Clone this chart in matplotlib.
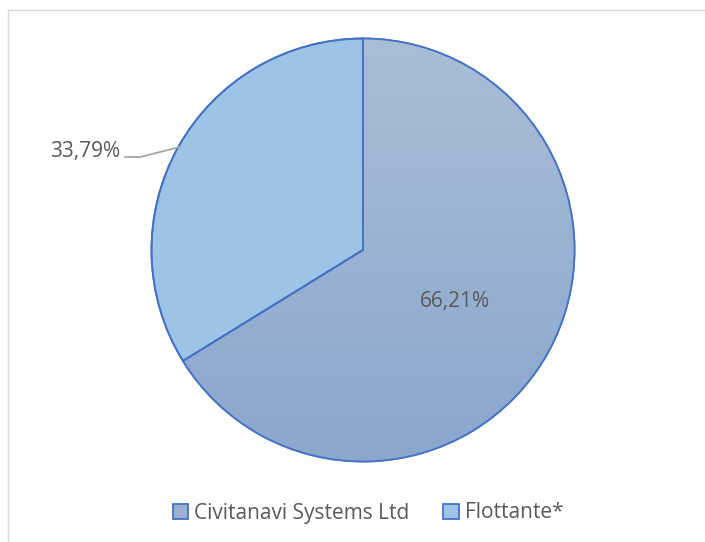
import matplotlib
matplotlib.use("Agg")
import matplotlib.pyplot as plt
import matplotlib.patches as patches
import numpy as np

# Data
labels = ["Civitanavi Systems Ltd", "Flottante*"]
values = [66.21, 33.79]
pct_text = ["66,21%", "33,79%"]
colors = ["#9bb1d3", "#9dc3e6"]
edge_color = "#4472c4"
text_color = "#595959"

plt.rcParams['font.family'] = ['Open Sans', 'DejaVu Sans']

fig = plt.figure(figsize=(7.05, 5.42), dpi=100)

# chart frame (extends past right/bottom edges like the reference)
frame = patches.Rectangle((8 / 705, -0.1), 1.1, 1 - 10 / 542 + 0.1,
                          transform=fig.transFigure, fill=False,
                          edgecolor="#d9d9d9", linewidth=1.0)
fig.add_artist(frame)

ax = fig.add_axes([151.5 / 705, 1 - 461.5 / 542, 423 / 705, 423 / 542])
wedges, _ = ax.pie(values, colors=colors, startangle=90, counterclock=False,
                   radius=1.0,
                   wedgeprops=dict(edgecolor=edge_color, linewidth=1.3))

# vertical gradient on the big slice (light at top, darker at bottom)
grad = np.linspace(0, 1, 256).reshape(-1, 1)
cmap = matplotlib.colors.LinearSegmentedColormap.from_list(
    "g", ["#aabdd7", "#8aa7ce"])
img = ax.imshow(grad, extent=(-1, 1, -1, 1), origin="upper", cmap=cmap,
                aspect="auto", zorder=wedges[0].get_zorder() + 0.1)
img.set_clip_path(wedges[0])
# redraw the edges on top of the gradient
for w in wedges:
    edge = patches.Wedge(w.center, w.r, w.theta1, w.theta2,
                         facecolor="none", edgecolor=edge_color,
                         linewidth=1.3, zorder=5)
    ax.add_patch(edge)

ax.set_xlim(-1.02, 1.02)
ax.set_ylim(-1.02, 1.02)
ax.set_aspect("equal")
ax.axis("off")
ax.set_position([151.5 / 705 - 0.01 * 423 / 705, 1 - 461.5 / 542 - 0.01 * 423 / 542,
                 423 / 705 * 1.02, 423 / 542 * 1.02])

# data labels
fig.text(455 / 705, 1 - 302 / 542, pct_text[0], fontsize=15, color=text_color,
         ha="center", va="center")
fig.text(120 / 705, 1 - 152 / 542, pct_text[1], fontsize=15, color=text_color,
         ha="right", va="center")
# leader line
lx = np.array([125, 140, 180]) / 705
ly = 1 - np.array([157, 157, 147]) / 542
fig.add_artist(plt.Line2D(lx, ly, transform=fig.transFigure,
                          color="#a6a6a6", linewidth=1.3))

# legend
handles = [patches.Patch(facecolor=c, edgecolor=edge_color, linewidth=1.3)
           for c in colors]
fig.legend(handles, labels, loc="center", bbox_to_anchor=(368 / 705, 1 - 513 / 542),
           ncol=2, frameon=False, fontsize=15, handlelength=0.75,
           handleheight=0.75, handletextpad=0.3, columnspacing=1.6,
           labelcolor=text_color)

fig.savefig("out.png", dpi=100, facecolor="white")
